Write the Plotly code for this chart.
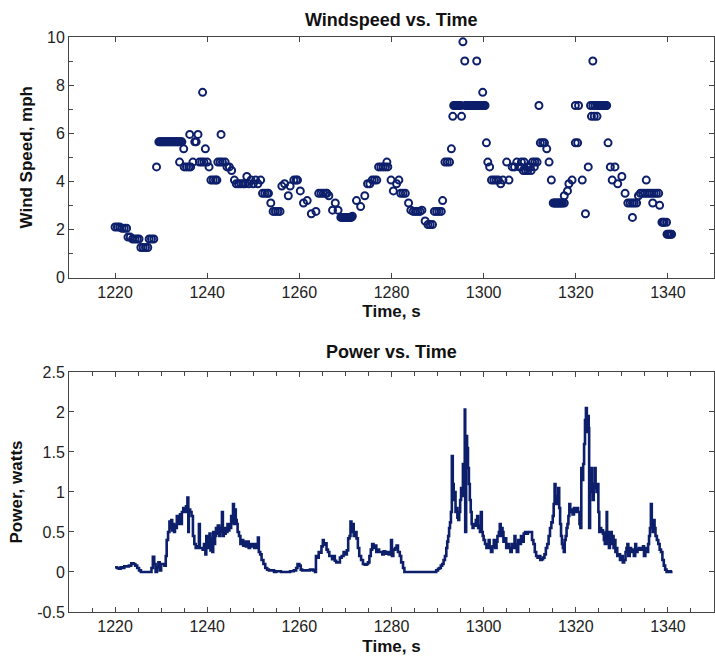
import plotly.graph_objects as go

NAVY = "#0d1f6b"

# ---------------- Wind speed (top) ----------------
wind_time = [
    1220.0, 1220.5, 1221.0, 1221.5, 1222.0, 1222.5,
    1222.8, 1223.3, 1223.8, 1224.3, 1224.8, 1225.2,
    1225.6, 1226.1, 1226.6, 1227.1,
    1227.4, 1227.9, 1228.4,
    1229.0,
    1229.5, 1230.0, 1230.5, 1231.0, 1231.5, 1232.0, 1232.5, 1233.0, 1233.5, 1234.0, 1234.5,
    1229.8, 1230.3, 1230.8, 1231.3, 1231.8, 1232.3, 1232.8, 1233.3, 1233.8, 1234.3,
    1234.0, 1234.9,
    1235.0, 1235.5, 1236.0, 1236.4,
    1236.2, 1236.9, 1237.3, 1237.6, 1238.0,
    1238.3, 1238.8, 1239.3, 1239.0, 1239.6, 1240.0, 1240.4,
    1240.8, 1241.3, 1241.8, 1242.1,
    1242.3, 1242.8, 1243.3, 1243.9, 1243.0,
    1244.3, 1244.8, 1245.3, 1245.9,
    1246.3, 1246.8, 1247.3, 1247.8, 1248.2, 1248.6,
    1249.0, 1249.5, 1250.0, 1250.5, 1251.0, 1251.6,
    1252.0, 1252.5, 1253.0, 1253.3, 1253.8,
    1254.3, 1254.8, 1255.3, 1255.8,
    1256.2, 1256.8, 1257.6, 1258.0,
    1258.8, 1259.3, 1259.6,
    1260.2, 1260.9, 1261.7, 1262.6, 1263.6,
    1264.2, 1264.7, 1265.2, 1265.7, 1266.0, 1266.4,
    1267.2, 1267.8, 1268.4,
    1269.0, 1269.5, 1270.0, 1270.5, 1271.0, 1271.5,
    1269.3, 1269.8, 1270.3, 1270.8, 1271.3,
    1272.4, 1273.3, 1274.2,
    1274.8, 1275.3, 1275.8, 1276.3, 1276.8,
    1277.2, 1277.7, 1278.2, 1278.7, 1279.2, 1279.0,
    1279.9, 1280.4, 1281.1, 1281.6,
    1282.0, 1282.5, 1283.0, 1283.7,
    1284.2, 1284.7, 1285.2, 1285.7, 1286.2, 1286.6,
    1287.3, 1287.9, 1288.4, 1288.9,
    1289.3, 1289.8, 1290.3, 1290.8, 1291.1,
    1291.6, 1292.1, 1292.6, 1293.0, 1293.3,
    1293.5, 1294.0, 1294.5, 1295.0, 1295.2, 1295.5, 1295.9,
    1293.8, 1294.3, 1294.8,
    1296.0, 1296.5, 1297.0, 1297.5, 1298.0, 1298.5, 1299.0, 1299.5, 1300.0, 1300.3,
    1296.3, 1296.8, 1297.3, 1297.8, 1298.3, 1298.8, 1299.3, 1299.8,
    1298.5, 1299.8,
    1300.6, 1300.9, 1301.3,
    1301.7, 1302.2, 1302.7, 1303.2, 1303.7, 1304.2,
    1305.0, 1305.5,
    1306.2, 1306.7, 1307.2, 1307.7, 1308.2,
    1308.6, 1309.1, 1309.6, 1310.1, 1310.6, 1311.1, 1311.6,
    1308.0, 1308.8, 1309.5, 1310.3, 1311.0,
    1312.0,
    1312.3, 1312.8, 1313.2, 1313.7, 1314.2, 1314.7,
    1315.1, 1315.6, 1316.1, 1316.6, 1317.1, 1317.5,
    1315.4, 1315.9, 1316.4, 1316.9,
    1317.5, 1318.2, 1318.5, 1319.2,
    1319.9, 1320.4, 1319.9, 1320.6,
    1321.4, 1322.1, 1322.7,
    1323.2, 1323.7, 1324.2, 1324.7, 1325.2, 1325.7, 1326.2, 1326.7,
    1325.0, 1325.5, 1326.0, 1326.5,
    1323.4, 1324.0, 1324.6, 1323.7,
    1327.0, 1327.5, 1327.9, 1328.5, 1329.1,
    1330.0, 1330.7,
    1331.3, 1331.8, 1332.3, 1332.7, 1333.2, 1332.3,
    1333.6, 1334.0, 1334.5, 1335.0, 1335.5, 1336.0, 1336.5, 1337.0, 1337.5, 1338.0,
    1335.3, 1336.7, 1338.2,
    1338.7, 1339.2, 1339.7, 1339.0,
    1339.8, 1340.3, 1340.8, 1340.1, 1340.6,
]
wind_mph = [
    2.1, 2.1, 2.1, 2.05, 2.05, 2.05,
    1.68, 1.68, 1.6, 1.6, 1.6, 1.6,
    1.25, 1.25, 1.25, 1.25,
    1.6, 1.6, 1.6,
    4.6,
    5.64, 5.64, 5.64, 5.64, 5.64, 5.64, 5.64, 5.64, 5.64, 5.64, 5.64,
    5.64, 5.64, 5.64, 5.64, 5.64, 5.64, 5.64, 5.64, 5.64, 5.64,
    4.8, 5.35,
    4.6, 4.6, 4.6, 4.6,
    5.95, 4.8, 5.64, 5.64, 5.95,
    4.8, 4.8, 4.8, 7.7, 5.35, 4.8, 4.6,
    4.05, 4.05, 4.05, 4.05,
    4.8, 4.8, 4.8, 4.8, 5.95,
    4.6, 4.6, 4.45, 4.05,
    3.9, 3.9, 3.9, 3.9, 3.9, 4.2,
    3.9, 4.05, 3.9, 4.05, 3.9, 4.05,
    3.5, 3.5, 3.5, 3.5, 3.1,
    2.75, 2.75, 2.75, 2.75,
    3.8, 3.9, 3.4, 3.8,
    4.05, 4.05, 4.05,
    3.6, 3.1, 3.2, 2.65, 2.75,
    3.5, 3.5, 3.5, 3.5, 3.5, 3.4,
    2.8, 3.1, 2.8,
    2.5, 2.5, 2.5, 2.5, 2.5, 2.55,
    2.5, 2.5, 2.5, 2.5, 2.5,
    3.2, 2.95, 3.4,
    3.9, 3.9, 4.05, 4.05, 4.05,
    4.6, 4.6, 4.6, 4.6, 4.6, 4.8,
    4.05, 3.6, 3.9, 4.05,
    3.5, 3.5, 3.5, 3.1,
    2.8, 2.75, 2.75, 2.75, 2.75, 2.8,
    2.35, 2.2, 2.2, 2.2,
    2.75, 2.75, 2.75, 2.75, 3.2,
    4.8, 4.8, 4.8, 5.35, 6.7,
    7.15, 7.15, 7.15, 7.15, 6.7, 9.8, 9.0,
    7.15, 7.15, 7.15,
    7.15, 7.15, 7.15, 7.15, 7.15, 7.15, 7.15, 7.15, 7.15, 7.15,
    7.15, 7.15, 7.15, 7.15, 7.15, 7.15, 7.15, 7.15,
    9.0, 7.7,
    5.6, 4.8, 4.6,
    4.05, 4.05, 4.05, 4.05, 3.9, 4.05,
    4.8, 4.05,
    4.6, 4.6, 4.8, 4.6, 4.8,
    4.45, 4.45, 4.45, 4.6, 4.8, 4.8, 4.8,
    4.6, 4.8, 4.6, 4.45, 4.6,
    7.15,
    5.6, 5.6, 5.6, 5.35, 4.8, 4.05,
    3.1, 3.1, 3.1, 3.1, 3.1, 3.1,
    3.1, 3.1, 3.1, 3.1,
    3.4, 3.6, 3.9, 4.05,
    5.6, 5.6, 7.15, 7.15,
    4.05, 2.65, 4.6,
    7.15, 7.15, 7.15, 7.15, 7.15, 7.15, 7.15, 7.15,
    7.15, 7.15, 7.15, 7.15,
    6.7, 6.7, 6.7, 9.0,
    5.6, 4.6, 4.05, 4.6, 3.9,
    4.2, 3.5,
    3.1, 3.1, 3.1, 3.1, 3.1, 2.5,
    3.4, 3.5, 3.5, 3.5, 3.5, 3.5, 3.5, 3.5, 3.5, 3.5,
    4.05, 3.1, 3.0,
    2.3, 2.3, 2.3, 2.3,
    1.8, 1.8, 1.8, 1.8, 1.8,
]

# ---------------- Power (bottom) ----------------
power_time = [
    1220.0, 1220.4, 1220.8, 1221.2, 1221.6, 1222.0, 1222.5, 1223.0, 1223.5, 1224.0,
    1224.4, 1224.8, 1225.2, 1225.6, 1226.5, 1227.5, 1227.9, 1228.2, 1228.5, 1228.8,
    1229.1, 1229.4, 1229.7, 1230.0, 1230.4, 1230.7, 1231.0, 1231.2, 1231.5, 1231.8,
    1232.0, 1232.2, 1232.4, 1232.6, 1232.8, 1233.0, 1233.2, 1233.4, 1233.6, 1233.9,
    1234.1, 1234.3, 1234.5, 1234.8, 1235.1, 1235.4, 1235.7, 1235.9, 1236.0, 1236.3,
    1236.6, 1236.9, 1237.2, 1237.5, 1237.8, 1238.0, 1238.2, 1238.4, 1238.7, 1239.0,
    1239.3, 1239.6, 1239.8, 1240.0, 1240.3, 1240.5, 1240.7, 1240.9, 1241.1, 1241.3,
    1241.5, 1241.7, 1241.9, 1242.1, 1242.3, 1242.6, 1242.8, 1243.0, 1243.2, 1243.4,
    1243.6, 1243.8, 1244.0, 1244.2, 1244.4, 1244.6, 1244.8, 1245.0, 1245.2, 1245.4,
    1245.6, 1245.8, 1246.0, 1246.2, 1246.4, 1246.6, 1246.9, 1247.2, 1247.5, 1247.8,
    1248.1, 1248.4, 1248.7, 1249.0, 1249.3, 1249.6, 1249.9, 1250.2, 1250.5, 1250.8,
    1251.0, 1251.2, 1251.5, 1251.8, 1252.2, 1252.6, 1253.0, 1253.4, 1254.0, 1254.5,
    1255.0, 1256.0, 1257.0, 1258.0, 1258.8, 1259.3, 1259.6, 1260.0, 1260.3, 1260.6,
    1261.5, 1262.3, 1263.0, 1263.4, 1263.6, 1263.9, 1264.2, 1264.5, 1264.8, 1265.1,
    1265.3, 1265.6, 1265.9, 1266.2, 1266.5, 1266.8, 1267.1, 1267.4, 1267.7, 1268.0,
    1268.4, 1268.8, 1269.2, 1269.6, 1270.0, 1270.3, 1270.6, 1270.9, 1271.1, 1271.3,
    1271.6, 1271.8, 1272.1, 1272.4, 1272.7, 1273.0, 1273.4, 1273.8, 1274.2, 1274.6,
    1274.9, 1275.2, 1275.5, 1275.8, 1276.1, 1276.4, 1276.7, 1277.0, 1277.3, 1277.6,
    1278.0, 1278.3, 1278.6, 1279.0, 1279.4, 1279.7, 1279.9, 1280.1, 1280.4, 1280.8,
    1281.1, 1281.4, 1281.8, 1282.1, 1282.5, 1282.8, 1284.0, 1286.0, 1288.0, 1289.3,
    1289.7, 1290.1, 1290.4, 1290.7, 1291.0, 1291.3, 1291.6, 1291.9, 1292.1, 1292.3,
    1292.5, 1292.7, 1292.9, 1293.1, 1293.3, 1293.5, 1293.7, 1293.9, 1294.1, 1294.3,
    1294.5, 1294.7, 1294.9, 1295.1, 1295.3, 1295.5, 1295.7, 1295.9, 1296.0, 1296.2,
    1296.4, 1296.6, 1296.8, 1297.0, 1297.2, 1297.4, 1297.6, 1297.8, 1298.0, 1298.3,
    1298.6, 1298.8, 1299.0, 1299.2, 1299.4, 1299.6, 1299.8, 1300.0, 1300.3, 1300.6,
    1300.9, 1301.1, 1301.3, 1301.6, 1301.9, 1302.2, 1302.5, 1302.8, 1303.0, 1303.3,
    1303.5, 1303.7, 1303.9, 1304.1, 1304.3, 1304.6, 1304.9, 1305.2, 1305.5, 1305.8,
    1306.1, 1306.4, 1306.7, 1306.9, 1307.2, 1307.5, 1307.8, 1308.1, 1308.4, 1308.7,
    1309.0, 1309.3, 1309.6, 1309.9, 1310.2, 1310.5, 1310.8, 1311.1, 1311.4, 1311.7,
    1312.0, 1312.3, 1312.6, 1312.9, 1313.2, 1313.5, 1313.8, 1314.1, 1314.4, 1314.7,
    1315.0, 1315.2, 1315.4, 1315.6, 1315.8, 1316.0, 1316.2, 1316.4, 1316.6, 1316.8,
    1317.0, 1317.2, 1317.4, 1317.6, 1317.8, 1318.0, 1318.2, 1318.4, 1318.6, 1318.8,
    1319.0, 1319.3, 1319.6, 1319.9, 1320.2, 1320.5, 1320.8, 1321.0, 1321.2, 1321.4,
    1321.6, 1321.8, 1322.0, 1322.2, 1322.4, 1322.6, 1322.8, 1322.9, 1323.1, 1323.3,
    1323.5, 1323.7, 1323.9, 1324.1, 1324.3, 1324.5, 1324.7, 1324.9, 1325.1, 1325.3,
    1325.5, 1325.7, 1325.9, 1326.1, 1326.3, 1326.5, 1326.7, 1326.8, 1327.0, 1327.2,
    1327.4, 1327.6, 1327.8, 1328.0, 1328.2, 1328.4, 1328.6, 1328.8, 1329.0, 1329.3,
    1329.6, 1329.9, 1330.2, 1330.5, 1330.8, 1331.0, 1331.2, 1331.4, 1331.7, 1332.0,
    1332.3, 1332.6, 1332.9, 1333.1, 1333.4, 1333.7, 1334.0, 1334.3, 1334.6, 1334.8,
    1335.1, 1335.4, 1335.7, 1335.9, 1336.1, 1336.3, 1336.5, 1336.7, 1336.9, 1337.1,
    1337.3, 1337.6, 1337.9, 1338.2, 1338.5, 1338.8, 1339.1, 1339.4, 1339.7, 1340.2,
    1340.6, 1341.0,
]
power_watts = [
    0.06, 0.05, 0.04, 0.06, 0.05, 0.07, 0.07, 0.08, 0.11, 0.10,
    0.08, 0.05, 0.02, 0.00, 0.00, 0.00, 0.05, 0.19, 0.10, 0.00,
    0.06, 0.12, 0.02, 0.10, 0.10, 0.08, 0.20, 0.40, 0.50, 0.63,
    0.55, 0.65, 0.52, 0.60, 0.50, 0.58, 0.55, 0.70, 0.60, 0.62,
    0.72, 0.60, 0.75, 0.80, 0.75, 0.82, 0.93, 0.50, 0.78, 0.75,
    0.70, 0.45, 0.35, 0.30, 0.30, 0.32, 0.60, 0.30, 0.30, 0.28,
    0.35, 0.22, 0.45, 0.30, 0.38, 0.48, 0.27, 0.42, 0.25, 0.50,
    0.35, 0.45, 0.55, 0.48, 0.58, 0.45, 0.55, 0.50, 0.75, 0.45,
    0.55, 0.48, 0.55, 0.50, 0.60, 0.52, 0.60, 0.55, 0.70, 0.62,
    0.85, 0.60, 0.78, 0.65, 0.60, 0.50, 0.45, 0.35, 0.40, 0.33,
    0.38, 0.32, 0.38, 0.30, 0.35, 0.32, 0.35, 0.30, 0.35, 0.30,
    0.43, 0.25, 0.22, 0.15, 0.10, 0.05, 0.03, 0.02, 0.02, 0.00,
    0.01, 0.00, 0.00, 0.01, 0.02, 0.05, 0.10, 0.08, 0.03, 0.02,
    0.02, 0.03, 0.02, 0.00, 0.20, 0.18, 0.25, 0.24, 0.32, 0.40,
    0.34, 0.36, 0.28, 0.25, 0.20, 0.20, 0.16, 0.20, 0.14, 0.12,
    0.12, 0.18, 0.20, 0.25, 0.22, 0.27, 0.42, 0.45, 0.63, 0.50,
    0.60, 0.45, 0.50, 0.42, 0.30, 0.20, 0.15, 0.10, 0.09, 0.10,
    0.12, 0.20, 0.28, 0.35, 0.30, 0.33, 0.25, 0.28, 0.25, 0.25,
    0.22, 0.26, 0.23, 0.25, 0.22, 0.25, 0.40, 0.20, 0.28, 0.30,
    0.33, 0.25, 0.20, 0.12, 0.05, 0.00, 0.00, 0.00, 0.00, 0.00,
    0.02, 0.04, 0.05, 0.08, 0.10, 0.15, 0.20, 0.30, 0.38, 0.45,
    0.55, 0.62, 0.75, 1.45, 1.10, 0.90, 1.00, 0.75, 0.80, 0.68,
    0.65, 0.75, 0.90, 1.05, 0.95, 1.35, 1.20, 2.03, 0.50, 1.70,
    1.55, 1.30, 1.10, 0.90, 0.75, 0.60, 0.55, 0.60, 0.58, 0.65,
    0.70, 0.55, 0.58, 0.50, 0.75, 0.50, 0.45, 0.40, 0.35, 0.30,
    0.33, 0.40, 0.30, 0.25, 0.32, 0.40, 0.30, 0.38, 0.45, 0.50,
    0.60, 0.45, 0.55, 0.50, 0.38, 0.42, 0.30, 0.35, 0.30, 0.25,
    0.35, 0.30, 0.45, 0.35, 0.25, 0.40, 0.35, 0.45, 0.38, 0.48,
    0.50, 0.48, 0.50, 0.50, 0.50, 0.40, 0.35, 0.25, 0.20, 0.18,
    0.20, 0.15, 0.16, 0.18, 0.22, 0.30, 0.35, 0.45, 0.55, 0.62,
    0.70, 0.85, 1.10, 0.90, 0.85, 0.95, 1.05, 0.80, 0.60, 0.45,
    0.35, 0.30, 0.25, 0.40, 0.45, 0.55, 0.60, 0.70, 0.85, 0.75,
    0.78, 0.72, 0.80, 0.75, 0.80, 0.75, 0.60, 0.55, 1.30, 1.15,
    1.35, 1.60, 1.90, 2.05, 1.75, 1.95, 1.80, 0.55, 1.10, 1.30,
    1.00, 0.90, 1.10, 1.30, 1.05, 1.00, 1.10, 0.75, 0.50, 0.55,
    0.50, 0.52, 0.48, 0.40, 0.35, 0.50, 0.75, 0.35, 0.50, 0.30,
    0.45, 0.50, 0.35, 0.45, 0.30, 0.40, 0.25, 0.30, 0.20, 0.22,
    0.15, 0.20, 0.12, 0.15, 0.25, 0.30, 0.35, 0.20, 0.30, 0.25,
    0.28, 0.20, 0.35, 0.25, 0.28, 0.30, 0.28, 0.30, 0.32, 0.20,
    0.30, 0.25, 0.35, 0.45, 0.55, 0.85, 0.60, 0.50, 0.65, 0.55,
    0.45, 0.40, 0.35, 0.28, 0.25, 0.15, 0.08, 0.03, 0.00, 0.01,
    0.00, 0.00,
]

power_tickvals = [-0.5, 0, 0.5, 1, 1.5, 2, 2.5]
power_ticktext = ["-0.5", "0", "0.5", "1", "1.5", "2", "2.5"]

FONT = "Liberation Sans, Arial, sans-serif"
TICKFONT = dict(family=FONT, size=16, color="#222222")
TITLEFONT = dict(family=FONT, size=17, color="#111111")
AXCOL = "#444444"

fig = go.Figure()
fig.add_trace(go.Scatter(
    x=wind_time, y=wind_mph, mode="markers", xaxis="x", yaxis="y",
    marker=dict(symbol="circle-open", size=7, color=NAVY, line=dict(width=2, color=NAVY)),
    showlegend=False,
))
fig.add_trace(go.Scatter(
    x=power_time, y=power_watts, mode="lines", xaxis="x2", yaxis="y2",
    line=dict(color=NAVY, width=2.6, shape="hv"),
    showlegend=False,
))

common_x = dict(
    range=[1210, 1350], tick0=1220, dtick=20, ticks="inside", ticklen=5, tickcolor=AXCOL,
    showline=True, linecolor=AXCOL, linewidth=1, mirror="ticks", showgrid=False, zeroline=False,
    tickfont=TICKFONT, automargin=False,
)
common_y = dict(
    ticks="inside", ticklen=5, tickcolor=AXCOL, showline=True, linecolor=AXCOL, linewidth=1,
    mirror="ticks", showgrid=False, zeroline=False, tickfont=TICKFONT, automargin=False,
)

fig.update_layout(
    width=715, height=660,
    margin=dict(l=69, r=1, t=37, b=48),
    paper_bgcolor="white", plot_bgcolor="white",
    xaxis=dict(**common_x, domain=[0, 1], anchor="y",
               title=dict(text="<b>Time, s</b>", font=TITLEFONT, standoff=5)),
    yaxis=dict(**common_y, domain=[0.5817, 1], anchor="x", range=[0, 10], dtick=2,
               minor=dict(dtick=1, ticks="inside", ticklen=4, tickcolor=AXCOL),
               title=dict(text="<b>Wind Speed, mph</b>", font=TITLEFONT, standoff=10)),
    xaxis2=dict(**common_x, domain=[0, 1], anchor="y2",
                minor=dict(dtick=5, ticks="inside", ticklen=4, tickcolor=AXCOL),
                title=dict(text="<b>Time, s</b>", font=TITLEFONT, standoff=5)),
    yaxis2=dict(**common_y, domain=[0, 0.4174], anchor="x2", range=[-0.5, 2.5],
                tickvals=power_tickvals, ticktext=power_ticktext,
                title=dict(text="<b>Power, watts</b>", font=TITLEFONT, standoff=10)),
    annotations=[
        dict(text="<b>Windspeed vs. Time</b>", x=0.5, y=1.0296, xref="paper", yref="paper",
             xanchor="center", yanchor="middle", showarrow=False,
             font=dict(family=FONT, size=18, color="#111111")),
        dict(text="<b>Power vs. Time</b>", x=0.5, y=0.452, xref="paper", yref="paper",
             xanchor="center", yanchor="middle", showarrow=False,
             font=dict(family=FONT, size=18, color="#111111")),
    ],
)

fig.write_html(
    "out.html",
    config={"displayModeBar": False},
    post_script="document.body.style.margin='0';document.body.style.overflow='hidden';"
                "document.documentElement.style.overflow='hidden';",
)
